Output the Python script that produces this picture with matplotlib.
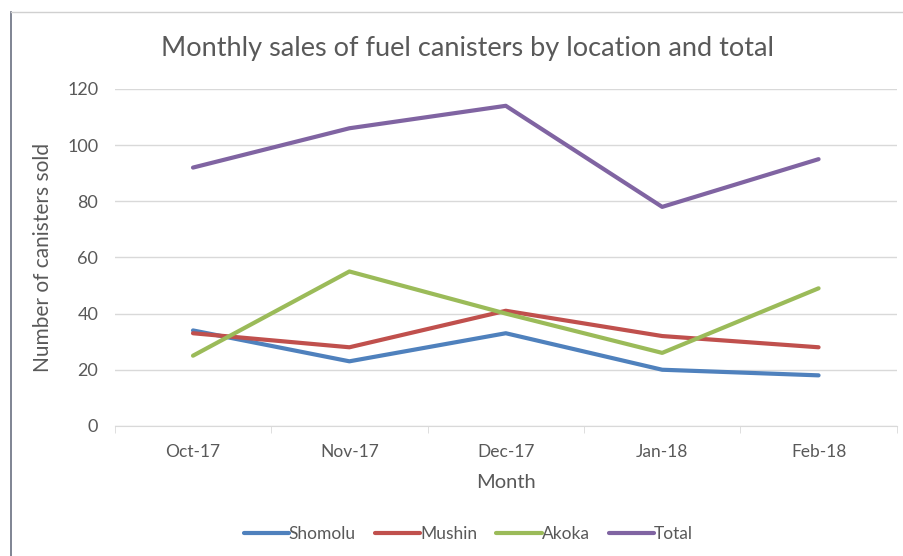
import matplotlib.pyplot as plt
from matplotlib.lines import Line2D

months = ['Oct-17', 'Nov-17', 'Dec-17', 'Jan-18', 'Feb-18']
shomolu = [34, 23, 33, 20, 18]
mushin = [33, 28, 41, 32, 28]
akoka = [25, 55, 40, 26, 49]
total = [92, 106, 114, 78, 95]

series = [('Shomolu', shomolu, '#4F81BD'),
          ('Mushin', mushin, '#C0504D'),
          ('Akoka', akoka, '#9BBB59'),
          ('Total', total, '#8064A2')]

plt.rcParams['font.family'] = ['Lato', 'DejaVu Sans']
txt = '#595959'

fig = plt.figure(figsize=(9.04, 5.56), dpi=100)
ax = fig.add_axes([0.127, 0.234, 0.865, 0.606])

x = list(range(len(months)))
for name, vals, col in series:
    ax.plot(x, vals, color=col, lw=3.0, label=name, solid_capstyle='round', solid_joinstyle='round')

ax.set_xlim(-0.5, len(months) - 0.5)
ax.set_ylim(0, 120)
ax.set_yticks(range(0, 121, 20))
ax.set_xticks(x)
ax.set_xticklabels(months)
ax.set_xticks([i - 0.5 for i in range(len(months) + 1)], minor=True)
ax.tick_params(axis='x', which='major', length=0, pad=13, labelsize=12.5, labelcolor=txt)
ax.tick_params(axis='x', which='minor', length=5, color='#d9d9d9', direction='out')
ax.tick_params(axis='y', length=0, pad=12, labelsize=13, labelcolor=txt)
ax.grid(axis='y', color='#d9d9d9', lw=1)
ax.set_axisbelow(True)
for s in ['top', 'right', 'left']:
    ax.spines[s].set_visible(False)
ax.spines['bottom'].set_color('#d9d9d9')

fig.text(0.517, 0.912, 'Monthly sales of fuel canisters by location and total',
         fontsize=19.5, color=txt, ha='center', va='center')
ax.set_xlabel('Month', fontsize=14.5, color=txt, labelpad=10)
ax.set_ylabel('Number of canisters sold', fontsize=15, color=txt, labelpad=10)

ax.legend(loc='center', bbox_to_anchor=(0.518, 0.04), bbox_transform=fig.transFigure, ncol=4,
          frameon=False, fontsize=12.5, labelcolor=txt, handlelength=2.6, handletextpad=0.0,
          columnspacing=1.1)

# frame edges of the original screenshot
fig.add_artist(Line2D([0.012, 0.012], [0, 0.978], transform=fig.transFigure, color='#6a7080', lw=1.2))
fig.add_artist(Line2D([0.012, 1.0], [0.978, 0.978], transform=fig.transFigure, color='#d0d0d0', lw=1))

fig.savefig('out.png', dpi=100)
